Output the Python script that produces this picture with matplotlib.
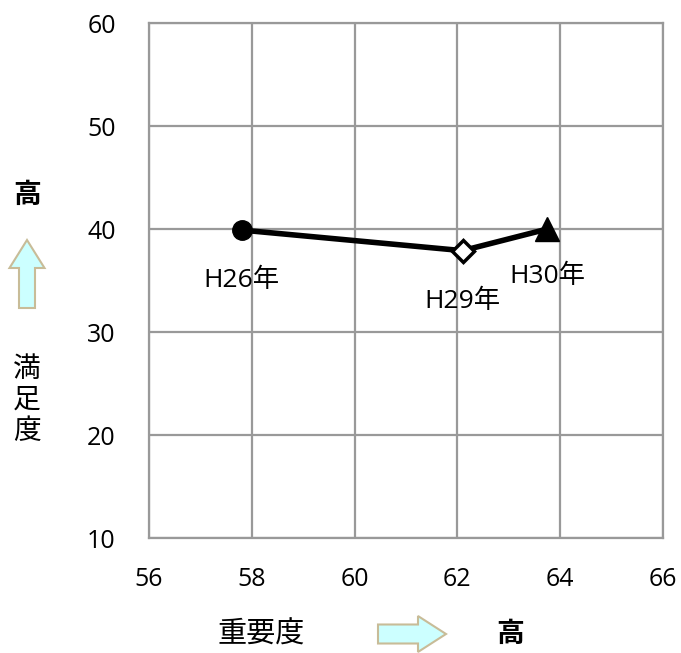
import matplotlib.pyplot as plt
from matplotlib.patches import FancyArrow

plt.rcParams['font.family'] = ['Noto Sans CJK JP', 'DejaVu Sans']

years = ['H26年', 'H29年', 'H30年']
importance = [57.8, 62.1, 63.75]
satisfaction = [39.9, 37.9, 40.0]
x_ticks = [56, 58, 60, 62, 64, 66]
y_ticks = [10, 20, 30, 40, 50, 60]

fig = plt.figure(figsize=(6.81, 6.53), dpi=100)
ax = fig.add_axes([0.2188, 0.1761, 0.7548, 0.7886])

ax.plot(importance, satisfaction, '-', color='black', linewidth=4, zorder=3)
ax.plot(importance[0], satisfaction[0], 'o', color='black', markersize=14, zorder=4)
ax.plot(importance[1], satisfaction[1], 'D', markerfacecolor='white', markeredgecolor='black',
        markeredgewidth=2.5, markersize=11, zorder=4)
ax.plot(importance[2], satisfaction[2], '^', color='black', markersize=17, zorder=4)

offsets = [(0, -4.9), (0, -4.9), (0, -4.6)]
for name, x, y, (dx, dy) in zip(years, importance, satisfaction, offsets):
    ax.text(x + dx, y + dy, name, ha='center', va='center', fontsize=19,
            family=['Open Sans', 'Noto Sans CJK JP'])

ax.set_xlim(56, 66)
ax.set_ylim(10, 60)
ax.set_xticks(x_ticks)
ax.set_yticks(y_ticks)
ax.tick_params(axis='y', length=0, labelsize=18, pad=24)
ax.tick_params(axis='x', length=0, labelsize=18, pad=21)
for lab in ax.get_xticklabels() + ax.get_yticklabels():
    lab.set_family('Open Sans')
ax.grid(True, color='#999999', linewidth=1.6)
for s in ax.spines.values():
    s.set_color('#999999')
    s.set_linewidth(1.6)

# axis captions and arrows
fig.text(27 / 681, 1 - 195 / 653, '高', ha='center', va='center', fontsize=20, fontweight='bold')
fig.text(27 / 681, 1 - 400 / 653, '満\n足\n度', ha='center', va='center', fontsize=20, linespacing=1.05)
fig.text(261 / 681, 1 - 635 / 653, '重要度', ha='center', va='center', fontsize=21)
fig.text(510 / 681, 1 - 634 / 653, '高', ha='center', va='center', fontsize=20, fontweight='bold')

fig.patches.append(FancyArrow(27 / 681, 1 - 308 / 653, 0, 68 / 653, width=16 / 681,
                              head_width=35 / 681, head_length=28 / 653, length_includes_head=True,
                              transform=fig.transFigure, facecolor='#ccffff', edgecolor='#c8bc98',
                              linewidth=1.5))
fig.patches.append(FancyArrow(378 / 681, 1 - 634 / 653, 68 / 681, 0, width=19 / 653,
                              head_width=36 / 653, head_length=28 / 681, length_includes_head=True,
                              transform=fig.transFigure, facecolor='#ccffff', edgecolor='#c8bc98',
                              linewidth=1.5))

fig.savefig('out.png', dpi=100)
